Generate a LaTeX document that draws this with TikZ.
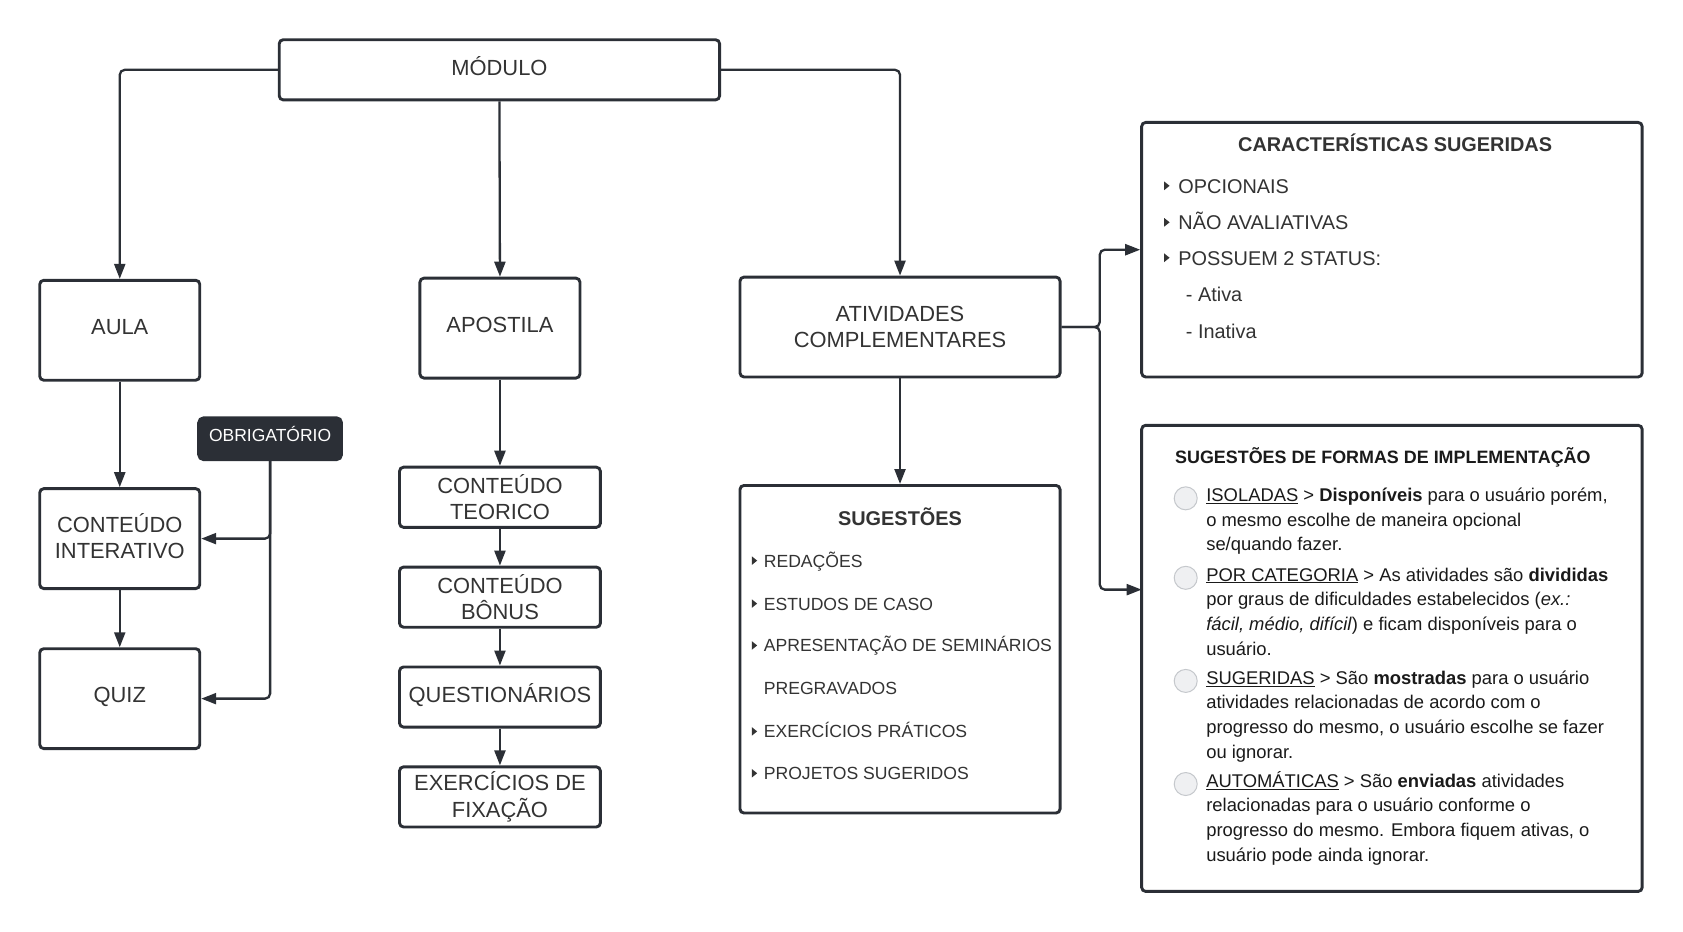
\documentclass[tikz,border=0pt]{standalone}
\usepackage{fontspec}
\setmainfont{Liberation Sans}
\usetikzlibrary{arrows.meta}
\definecolor{ink}{HTML}{2B2F36}
\definecolor{txt}{HTML}{333333}
\definecolor{dark}{HTML}{1A1A1A}
\definecolor{radfill}{HTML}{EFF0F2}
\definecolor{radline}{HTML}{C5C8CC}
\newcommand\mkbox[7][]{%
 \pgfmathsetmacro\bxw{(#5-#3)*1.074}%
 \pgfmathsetmacro\bxh{(#6-#4)*1.074}%
 \node[box,minimum width=\bxw pt,minimum height=\bxh pt,#1] (#2) at ({(#3+#5)/2},{(#4+#6)/2}) {#7};}
\newcommand\mkline[5][]{\node[ln,#1] (#2) at (#3,#4) {#5};}
\newcommand\tri[2]{\fill[txt] (#1,#2-4) -- (#1+5,#2) -- (#1,#2+4) -- cycle;}
\newcommand\radio[2]{\draw[fill=radfill,draw=radline,line width=1pt] (#1,#2) circle[radius=11.5pt];}
\begin{document}
\begin{tikzpicture}[x=1.074pt,y=-1.074pt,
  box/.style={draw=ink, line width=2.9pt, rounded corners=4pt, fill=white, align=center,
    text=txt, font=\fontsize{21.9}{26.4}\selectfont, inner sep=0pt},
  one/.style={text height=#1, text depth=0pt},
  one/.default=8pt,
  obr/.style={fill=ink, draw=ink, text=white, font=\fontsize{17.5}{20}\selectfont, rounded corners=5pt, one=5.2pt},
  conn/.style={draw=ink, line width=2.3pt, rounded corners=5pt, -{Triangle[length=15pt,width=11pt]}},
  ln/.style={anchor=base west, inner sep=0pt, text=txt},
  hdr/.style={anchor=base, inner sep=0pt, text=txt, font=\bfseries\fontsize{19.9}{24}\selectfont},
  citem/.style={font=\fontsize{19.9}{24}\selectfont},
  sitem/.style={font=\fontsize{17.6}{21}\selectfont},
  fitem/.style={font=\fontsize{18.4}{24}\selectfont, text=dark},
]
\useasboundingbox (0,0) rectangle (1567.04,867.78);

% boxes
\mkbox[one=12pt]{mod}{260}{37}{670}{93}{MÓDULO}
\mkbox[one]{aula}{37}{261}{186}{354}{AULA}
\mkbox[one]{apos}{391}{259}{540}{352}{APOSTILA}
\mkbox{ativ}{689}{258}{987}{351}{ATIVIDADES\\COMPLEMENTARES}
\mkbox[text depth=5.5pt]{ci}{37}{455}{186}{548}{CONTEÚDO\\INTERATIVO}
\mkbox[one]{quiz}{37}{604}{186}{697}{QUIZ}
\mkbox{ct}{372}{435}{559}{491}{CONTEÚDO\\TEORICO}
\mkbox{cb}{372}{528}{559}{584}{CONTEÚDO\\BÔNUS}
\mkbox[one=11.5pt]{qst}{372}{621}{559}{677}{QUESTIONÁRIOS}
\mkbox{exf}{372}{714}{559}{770}{EXERCÍCIOS DE\\FIXAÇÃO}
\mkbox{carac}{1063}{114}{1529}{351}{}
\mkbox{sug}{689}{452}{987}{757}{}
\mkbox{forms}{1063}{396}{1529}{830}{}
\mkbox[obr]{obrig}{185}{389}{318}{428}{OBRIGATÓRIO}

% connectors
\draw[conn] (mod.west) -| (aula.north);
\draw[conn] (mod.south) -- (apos.north);
\draw[conn] (mod.east) -| (ativ.north);
\draw[conn] (aula.south) -- (ci.north);
\draw[conn] (ci.south) -- (quiz.north);
\draw[conn] (obrig.south) |- (ci.east);
\draw[conn] (obrig.south) |- (quiz.east);
\draw[conn] (apos.south) -- (ct.north);
\draw[conn] (ct.south) -- (cb.north);
\draw[conn] (cb.south) -- (qst.north);
\draw[conn] (qst.south) -- (exf.north);
\draw[conn] (ativ.south) -- (sug.north);
\coordinate (split) at (1024,304.5);
\coordinate (fin) at (1063,549);
\draw[conn] (ativ.east) -- (split) |- (carac.west);
\draw[conn] (ativ.east) -- (split) |- (fin);

% CARACTERISTICAS
\node[hdr] (carach) at (1299,141) {CARACTERÍSTICAS SUGERIDAS};
\tri{1084}{173}\tri{1084}{207}\tri{1084}{240}
\mkline[citem]{c1}{1097}{180}{OPCIONAIS}
\mkline[citem]{c2}{1097}{214}{NÃO AVALIATIVAS}
\mkline[citem]{c3}{1097}{247}{POSSUEM 2 STATUS:}
\mkline[citem]{c4}{1104}{281}{- Ativa}
\mkline[citem]{c5}{1104}{315}{- Inativa}

% SUGESTOES
\node[hdr] (sugh) at (838,489) {SUGESTÕES};
\tri{700}{522}\tri{700}{562}\tri{700}{601}\tri{700}{681}\tri{700}{720}
\mkline[sitem]{s1}{711}{528}{REDAÇÕES}
\mkline[sitem]{s2}{711}{568}{ESTUDOS DE CASO}
\mkline[sitem]{s3}{711}{607}{APRESENTAÇÃO DE SEMINÁRIOS}
\mkline[sitem]{s4}{711}{647}{PREGRAVADOS}
\mkline[sitem]{s5}{711}{687}{EXERCÍCIOS PRÁTICOS}
\mkline[sitem]{s6}{711}{726}{PROJETOS SUGERIDOS}

% FORMAS
\node[hdr, anchor=base west, text=dark, font=\bfseries\fontsize{17.9}{21}\selectfont] (formh) at (1094,432) {SUGESTÕES DE FORMAS DE IMPLEMENTAÇÃO};
\radio{1104}{464}\radio{1104}{538}\radio{1104}{634}\radio{1104}{730}
\mkline[fitem]{f1a}{1123}{467}{\underline{ISOLADAS} > \textbf{Disponíveis} para o usuário porém,}
\mkline[fitem]{f1b}{1123}{490}{o mesmo escolhe de maneira opcional}
\mkline[fitem]{f1c}{1123}{513}{se/quando fazer.}
\mkline[fitem]{f2a}{1123}{541}{\underline{POR CATEGORIA} > As atividades são \textbf{divididas}}
\mkline[fitem]{f2b}{1123}{564}{por graus de dificuldades estabelecidos (\textit{ex.:}}
\mkline[fitem]{f2c}{1123}{587}{\textit{fácil, médio, difícil}) e ficam disponíveis para o}
\mkline[fitem]{f2d}{1123}{610}{usuário.}
\mkline[fitem]{f3a}{1123}{637}{\underline{SUGERIDAS} > São \textbf{mostradas} para o usuário}
\mkline[fitem]{f3b}{1123}{660}{atividades relacionadas de acordo com o}
\mkline[fitem]{f3c}{1123}{683}{progresso do mesmo, o usuário escolhe se fazer}
\mkline[fitem]{f3d}{1123}{706}{ou ignorar.}
\mkline[fitem]{f4a}{1123}{733}{\underline{AUTOMÁTICAS} > São \textbf{enviadas} atividades}
\mkline[fitem]{f4b}{1123}{756}{relacionadas para o usuário conforme o}
\mkline[fitem]{f4c}{1123}{779}{progresso do mesmo. Embora fiquem ativas, o}
\mkline[fitem]{f4d}{1123}{802}{usuário pode ainda ignorar.}
\end{tikzpicture}
\end{document}
